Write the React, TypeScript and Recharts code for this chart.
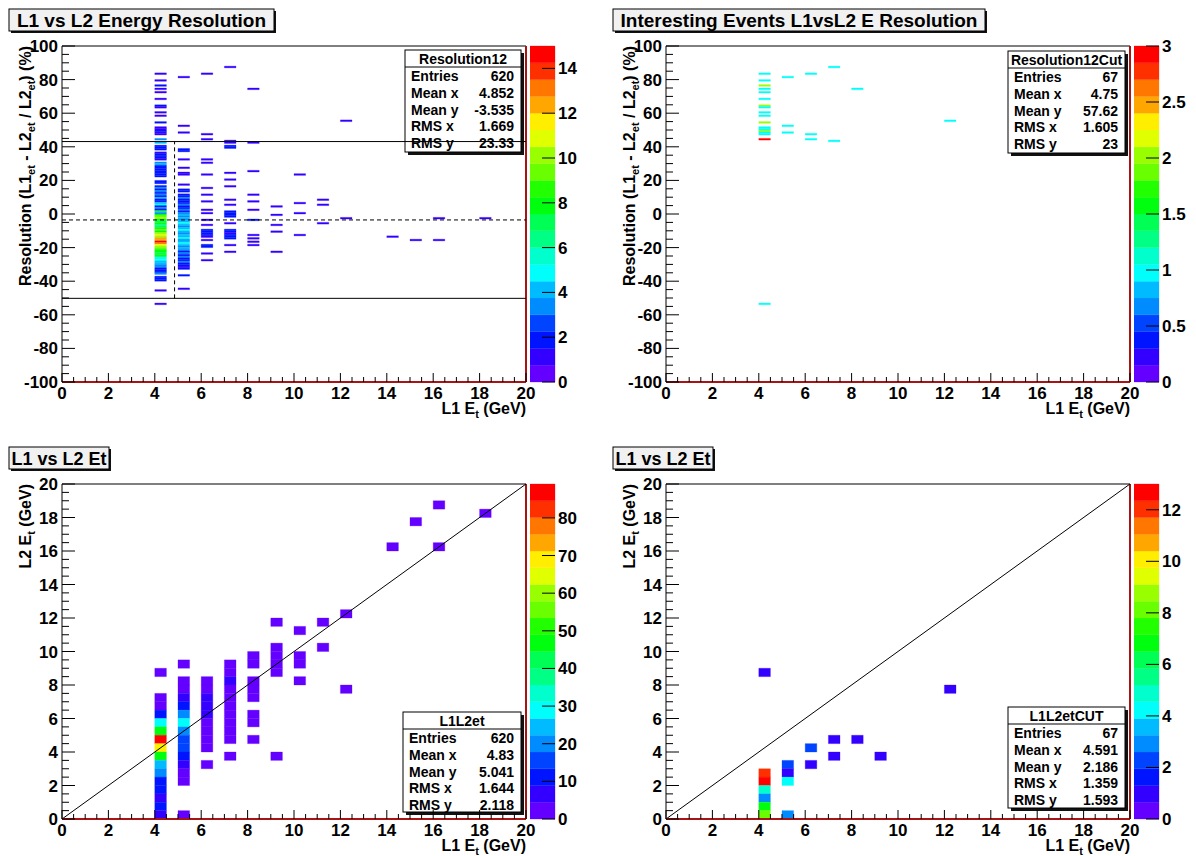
import React from "react";
import { ComposedChart, XAxis, YAxis, ReferenceArea, ReferenceLine } from "recharts";

type Col = [number, number][];
type Bin = { x1: number; x2: number; y1: number; y2: number; n: number };

// ROOT "pretty" palette sampled at 20 contour levels (violet -> red)
const PALETTE = [
  "#6300ff", "#3300ff", "#0014ff", "#0044ff", "#008bff",
  "#00bbff", "#00fffb", "#00ffcc", "#00ff85", "#00ff55",
  "#00ff0e", "#22ff00", "#69ff00", "#99ff00", "#e0ff00",
  "#ffee00", "#ffa700", "#ff7700", "#ff3000", "#ff0000",
];

// ---- Resolution12 : [resolution bin low edge (%), entries], per L1 Et column (0.5 GeV wide)
const res12At4: Col = [
  [83, 1], [79, 1], [76, 2], [74, 1], [72, 1], [68, 1], [64, 2], [63, 1], [60, 1], [58, 1], [54, 2],
  [51, 1], [50, 1], [49, 2], [48, 1], [47, 1], [44, 3], [42, 4], [40, 2], [39, 2], [38, 2], [36, 1],
  [35, 2], [34, 2], [33, 2], [32, 1], [30, 3], [29, 4], [28, 2], [27, 2], [26, 2], [25, 2], [24, 2],
  [23, 2], [22, 2], [19, 2], [18, 2], [16, 2], [15, 3], [14, 2], [13, 3], [12, 2], [11, 3], [10, 2],
  [9, 4], [8, 2], [7, 2], [6, 4], [5, 5], [4, 2], [3, 3], [2, 2], [1, 7], [0, 3],
  [-1, 8], [-2, 9], [-3, 10], [-4, 8], [-5, 7], [-6, 8], [-7, 6], [-8, 7], [-9, 8], [-10, 9],
  [-11, 8], [-12, 10], [-13, 11], [-14, 10], [-15, 12], [-16, 12], [-17, 15], [-18, 13], [-19, 11],
  [-20, 10], [-21, 9], [-22, 8], [-23, 8], [-24, 7], [-25, 8], [-26, 6], [-27, 5], [-28, 5],
  [-29, 4], [-30, 4], [-31, 3], [-32, 3], [-33, 2], [-34, 2], [-35, 2], [-36, 3], [-38, 2],
  [-39, 2], [-40, 2], [-46, 1], [-54, 1],
];
const res12At5: Col = [
  [81, 1], [52, 1], [48, 1], [38, 2], [37, 2], [32, 1], [27, 1], [24, 1], [23, 1], [17, 1], [14, 2],
  [13, 2], [11, 2], [10, 2], [9, 3], [8, 2], [7, 2], [6, 2], [5, 3], [4, 2], [3, 2], [2, 3], [1, 2],
  [0, 3], [-1, 4], [-2, 3], [-3, 4], [-4, 3], [-5, 4], [-6, 5], [-7, 4], [-8, 3], [-9, 4], [-10, 5],
  [-11, 4], [-12, 3], [-13, 4], [-14, 4], [-15, 5], [-16, 3], [-17, 4], [-18, 5], [-19, 4], [-20, 3],
  [-21, 4], [-22, 3], [-23, 2], [-24, 3], [-25, 2], [-26, 3], [-27, 2], [-28, 2], [-29, 3], [-30, 2],
  [-31, 2], [-32, 1], [-33, 2], [-37, 2], [-45, 1],
];
const res12At6: Col = [
  [83, 1], [47, 1], [44, 1], [32, 1], [30, 1], [23, 1], [15, 1], [11, 1], [7, 1], [2, 1], [0, 1],
  [-4, 1], [-7, 1], [-10, 2], [-11, 2], [-12, 2], [-13, 2], [-14, 1], [-16, 1], [-19, 2], [-20, 2],
  [-24, 1], [-28, 1],
];
const res12At7: Col = [
  [87, 1], [43, 1], [42, 1], [40, 2], [39, 2], [24, 1], [20, 1], [16, 1], [8, 1], [5, 1], [1, 2],
  [0, 2], [-1, 2], [-2, 2], [-6, 1], [-10, 2], [-11, 2], [-12, 1], [-13, 2], [-14, 2], [-15, 2],
  [-19, 1], [-23, 1],
];
const res12At8: Col = [[74, 1], [42, 1], [25, 1], [11, 1], [7, 1], [2, 1], [-4, 2], [-13, 1], [-15, 1], [-17, 1], [-19, 1]];
const res12At9: Col = [[4, 1], [-1, 1], [-7, 1], [-11, 1], [-23, 1]];
const res12At10: Col = [[23, 1], [6, 1], [0, 1], [-13, 1]];
const res12At11: Col = [[8, 1], [5, 1], [-6, 1]];
const res12At12: Col = [[55, 1], [-3, 1]];
const res12At14: Col = [[-14, 1]];
const res12At15: Col = [[-16, 1]];
const res12At16: Col = [[-3, 1], [-16, 1]];
const res12At18: Col = [[-3, 1]];

// ---- Resolution12Cut
const cutAt4: Col = [
  [83, 1], [79, 1], [76, 2], [74, 1], [72, 1], [68, 1], [64, 2], [63, 1], [60, 1], [58, 1], [54, 2],
  [51, 1], [50, 1], [49, 2], [48, 1], [47, 1], [44, 3], [-54, 1],
];
const cutAt5: Col = [[81, 1], [52, 1], [48, 1]];
const cutAt6: Col = [[83, 1], [47, 1], [44, 1]];
const cutAt7: Col = [[87, 1], [43, 1]];
const cutAt8: Col = [[74, 1]];
const cutAt12: Col = [[55, 1]];

// ---- L1L2et : [L2 Et bin low edge (GeV), entries], 0.5 GeV bins
const etAt4: Col = [
  [8.5, 2], [7, 3], [6.5, 4], [6, 10], [5.5, 28], [5, 48], [4.5, 88], [4, 68], [3.5, 48], [3, 24],
  [2.5, 20], [2, 13], [1.5, 12], [1, 5], [0.5, 10], [0, 8],
];
const etAt5: Col = [
  [9, 2], [8, 3], [7.5, 3], [7, 6], [6.5, 12], [6, 20], [5.5, 28], [5, 22], [4.5, 15], [4, 14],
  [3.5, 11], [3, 6], [2.5, 4], [2, 3], [0, 2],
];
const etAt6: Col = [[8, 2], [7.5, 3], [7, 5], [6.5, 6], [6, 5], [5.5, 4], [5, 3], [4.5, 2], [4, 2], [3, 1]];
const etAt7: Col = [[9, 1], [8.5, 2], [8, 5], [7.5, 3], [7, 3], [6.5, 2], [6, 3], [5.5, 2], [5, 2], [4.5, 1], [3.5, 1]];
const etAt8: Col = [[9.5, 1], [9, 1], [8, 2], [7.5, 2], [7, 1], [6, 1], [5.5, 1], [4.5, 1]];
const etAt9: Col = [[11.5, 1], [10, 1], [9.5, 1], [9, 1], [8.5, 1], [3.5, 1]];
const etAt10: Col = [[11, 1], [9.5, 1], [9, 1], [8, 1]];
const etAt11: Col = [[11.5, 1], [10, 1]];
const etAt12: Col = [[12, 1], [7.5, 1]];
const etAt14: Col = [[16, 1]];
const etAt15: Col = [[17.5, 1]];
const etAt16: Col = [[18.5, 1], [16, 1]];
const etAt18: Col = [[18, 1]];

// ---- L1L2etCUT
const etCutAt4: Col = [[8.5, 1], [2.5, 12], [2, 13], [1.5, 5], [1, 3], [0.5, 7], [0, 8]];
const etCutAt5: Col = [[3, 2], [2.5, 1], [2, 4], [0, 3]];
const etCutAt6: Col = [[4, 2], [3, 1]];
const etCutAt7: Col = [[4.5, 1], [3.5, 1]];
const etCutAt8: Col = [[4.5, 1]];
const etCutAt9: Col = [[3.5, 1]];
const etCutAt12: Col = [[7.5, 1]];

// stats boxes
const STAT_LABELS = ["Entries", "Mean x", "Mean y", "RMS x", "RMS y"];
const res12Stats = ["620", "4.852", "-3.535", "1.669", "23.33"];
const cutStats = ["67", "4.75", "57.62", "1.605", "23"];
const etStats = ["620", "4.83", "5.041", "1.644", "2.118"];
const etCutStats = ["67", "4.591", "2.186", "1.359", "1.593"];

// axes
const X_MAJOR = [0, 2, 4, 6, 8, 10, 12, 14, 16, 18, 20];
const RES_Y_MAJOR = [-100, -80, -60, -40, -20, 0, 20, 40, 60, 80, 100];
const ET_Y_MAJOR = [0, 2, 4, 6, 8, 10, 12, 14, 16, 18, 20];
const RES_Z_TICKS = [0, 2, 4, 6, 8, 10, 12, 14];
const CUT_Z_TICKS = [0, 0.5, 1, 1.5, 2, 2.5, 3];
const ET_Z_TICKS = [0, 10, 20, 30, 40, 50, 60, 70, 80];
const ETCUT_Z_TICKS = [0, 2, 4, 6, 8, 10, 12];

// Resolution12 mean and +-2 RMS band
const RES_MEAN_X = 4.852;
const RES_MEAN_Y = -3.535;
const RES_HI = 43.12;
const RES_LO = -50.2;

const FONT = "'Liberation Sans', Arial, Helvetica, sans-serif";
const RED = "#a81414";
const PLOT_L = 62;
const PLOT_R = 526;
const PLOT_T = 46;
const CHART_W = 545;
const AXIS_H = 26;

const toBins = (cols: [number, Col][], dy: number): Bin[] =>
  cols.flatMap(([x, col]) => col.map(([y, n]) => ({ x1: x, x2: x + 0.5, y1: y, y2: y + dy, n })));

const withMinor = (major: number[], n: number) =>
  major.flatMap((v, i) =>
    i === 0 ? [v] : Array.from({ length: n }, (_, k) => major[i - 1] + ((v - major[i - 1]) * (k + 1)) / n)
  );

const colorOf = (n: number, zMax: number) => PALETTE[Math.min(19, Math.floor(n / (zMax / 20)))];

const xTick = (p: any) => {
  const { x, y, payload } = p;
  const major = X_MAJOR.includes(payload.value);
  return (
    <g>
      <line x1={x} x2={x} y1={y} y2={y - (major ? 9 : 5)} stroke="#000" />
      {major && (
        <text x={x} y={y + 17} textAnchor="middle" fontSize={17} fontWeight="bold" fontFamily={FONT}>
          {payload.value}
        </text>
      )}
    </g>
  );
};

const yTickFor = (majors: number[]) => (p: any) => {
  const { x, y, payload } = p;
  const major = majors.includes(payload.value);
  return (
    <g>
      <line x1={x} x2={x + (major ? 13 : 7)} y1={y} y2={y} stroke="#000" />
      {major && (
        <text x={x - 4} y={y + 6} textAnchor="end" fontSize={17} fontWeight="bold" fontFamily={FONT}>
          {payload.value}
        </text>
      )}
    </g>
  );
};

const zTick = (p: any) => {
  const { x, y, payload } = p;
  return (
    <g>
      <line x1={x - 13} x2={x} y1={y} y2={y} stroke="#000" />
      <text x={x + 3} y={y + 6} textAnchor="start" fontSize={17} fontWeight="bold" fontFamily={FONT}>
        {payload.value}
      </text>
    </g>
  );
};

type PanelProps = {
  left: number;
  top: number;
  title: string;
  titleW: number;
  titleSize: number;
  bins: Bin[];
  zMax: number;
  zTicks: number[];
  yDomain: [number, number];
  yMajor: number[];
  yTitle: React.ReactNode;
  statsName: string;
  stats: string[];
  statsBox: { x: number; y: number; w: number; h: number };
  plotBottom: number;
  extras?: React.ReactNode[];
};

function Panel(p: PanelProps) {
  const H = p.plotBottom + AXIS_H;
  const step = p.zMax / 20;
  const b = p.statsBox;
  return (
    <div style={{ position: "absolute", left: p.left, top: p.top, width: 600, height: 430 }}>
      <svg width={600} height={430} style={{ position: "absolute", left: 0, top: 0 }} fontFamily={FONT}>
        {/* title box */}
        <rect x={11} y={11} width={p.titleW} height={22} fill="#111" />
        <rect x={9} y={9} width={p.titleW} height={22} fill="#f1f1f1" stroke="#000" />
        <text x={9 + p.titleW / 2} y={26.5} textAnchor="middle" fontSize={p.titleSize} fontWeight="bold">
          {p.title}
        </text>
        {/* stats box */}
        <rect x={b.x + 3} y={b.y + 3} width={b.w} height={b.h} fill="#111" />
        <rect x={b.x} y={b.y} width={b.w} height={b.h} fill="#fff" stroke="#000" />
        <line x1={b.x} x2={b.x + b.w} y1={b.y + 17} y2={b.y + 17} stroke="#000" />
        <text x={b.x + b.w / 2} y={b.y + 13.5} textAnchor="middle" fontSize={14} fontWeight="bold">
          {p.statsName}
        </text>
        {STAT_LABELS.map((l, i) => (
          <g key={l}>
            <text x={b.x + 6} y={b.y + 31 + i * 16.8} fontSize={14} fontWeight="bold">
              {l}
            </text>
            <text x={b.x + b.w - 7} y={b.y + 31 + i * 16.8} textAnchor="end" fontSize={14} fontWeight="bold">
              {p.stats[i]}
            </text>
          </g>
        ))}
        {/* axis titles */}
        <text x={PLOT_R} y={p.plotBottom + 32} textAnchor="end" fontSize={16} fontWeight="bold">
          <tspan>L1 E</tspan>
          <tspan dy={4} fontSize={11}>t</tspan>
          <tspan dy={-4}> (GeV)</tspan>
        </text>
        <text transform={`translate(31,${PLOT_T}) rotate(-90)`} textAnchor="end" fontSize={16} fontWeight="bold">
          {p.yTitle}
        </text>
      </svg>

      <div style={{ position: "absolute", left: 0, top: 0 }}>
        <ComposedChart
          width={CHART_W}
          height={H}
          margin={{ top: PLOT_T, right: CHART_W - PLOT_R, bottom: 0, left: 0 }}
        >
          <XAxis
            type="number"
            dataKey="x"
            domain={[0, 20]}
            ticks={withMinor(X_MAJOR, 4)}
            interval={0}
            tickSize={0}
            tickMargin={0}
            tickLine={false}
            tick={xTick}
            axisLine={{ stroke: RED, strokeWidth: 2 }}
            height={AXIS_H}
            allowDataOverflow
          />
          <YAxis
            type="number"
            dataKey="y"
            domain={p.yDomain}
            ticks={withMinor(p.yMajor, 4)}
            interval={0}
            tickSize={0}
            tickMargin={0}
            tickLine={false}
            tick={yTickFor(p.yMajor)}
            axisLine={{ stroke: "#000" }}
            width={PLOT_L}
            allowDataOverflow
          />
          {p.bins.map((bin, i) => {
            const c = colorOf(bin.n, p.zMax);
            return (
              <ReferenceArea
                key={i}
                x1={bin.x1}
                x2={bin.x2}
                y1={bin.y1}
                y2={bin.y2}
                fill={c}
                fillOpacity={1}
                stroke={c}
                strokeWidth={0.3}
              />
            );
          })}
          <ReferenceLine y={p.yDomain[1]} stroke="#000" />
          <ReferenceLine x={20} stroke={RED} strokeWidth={2} />
          {p.extras}
        </ComposedChart>
      </div>

      <div style={{ position: "absolute", left: 530, top: 0 }}>
        <ComposedChart
          width={70}
          height={H}
          margin={{ top: PLOT_T, right: 0, bottom: H - p.plotBottom, left: 0 }}
        >
          <XAxis type="number" dataKey="x" domain={[0, 1]} height={0} tick={false} axisLine={false} tickLine={false} allowDataOverflow />
          <YAxis
            orientation="right"
            type="number"
            dataKey="z"
            domain={[0, p.zMax]}
            ticks={p.zTicks}
            interval={0}
            tickSize={0}
            tickMargin={0}
            tickLine={false}
            tick={zTick}
            axisLine={false}
            width={45}
            allowDataOverflow
          />
          {PALETTE.map((c, i) => (
            <ReferenceArea
              key={i}
              x1={0}
              x2={1}
              y1={i * step}
              y2={(i + 1) * step}
              fill={c}
              fillOpacity={1}
              stroke={c}
              strokeWidth={0.3}
            />
          ))}
        </ComposedChart>
      </div>
    </div>
  );
}

const resYTitle = (
  <>
    <tspan>Resolution (L1</tspan>
    <tspan dy={4} fontSize={11}>et</tspan>
    <tspan dy={-4}> - L2</tspan>
    <tspan dy={4} fontSize={11}>et</tspan>
    <tspan dy={-4}> / L2</tspan>
    <tspan dy={4} fontSize={11}>et</tspan>
    <tspan dy={-4}>) (%)</tspan>
  </>
);

const etYTitle = (
  <>
    <tspan>L2 E</tspan>
    <tspan dy={4} fontSize={11}>t</tspan>
    <tspan dy={-4}> (GeV)</tspan>
  </>
);

export default function App() {
  const res12Bins = toBins(
    [
      [4, res12At4], [5, res12At5], [6, res12At6], [7, res12At7], [8, res12At8], [9, res12At9],
      [10, res12At10], [11, res12At11], [12, res12At12], [14, res12At14], [15, res12At15],
      [16, res12At16], [18, res12At18],
    ],
    1
  );
  const cutBins = toBins(
    [[4, cutAt4], [5, cutAt5], [6, cutAt6], [7, cutAt7], [8, cutAt8], [12, cutAt12]],
    1
  );
  const etBins = toBins(
    [
      [4, etAt4], [5, etAt5], [6, etAt6], [7, etAt7], [8, etAt8], [9, etAt9], [10, etAt10],
      [11, etAt11], [12, etAt12], [14, etAt14], [15, etAt15], [16, etAt16], [18, etAt18],
    ],
    0.5
  );
  const etCutBins = toBins(
    [
      [4, etCutAt4], [5, etCutAt5], [6, etCutAt6], [7, etCutAt7], [8, etCutAt8], [9, etCutAt9],
      [12, etCutAt12],
    ],
    0.5
  );

  const resLines = [
    <ReferenceLine key="hi" y={RES_HI} stroke="#000" />,
    <ReferenceLine key="lo" y={RES_LO} stroke="#000" />,
    <ReferenceLine key="my" y={RES_MEAN_Y} stroke="#000" strokeDasharray="4 3" />,
    <ReferenceLine
      key="mx"
      segment={[{ x: RES_MEAN_X, y: RES_LO }, { x: RES_MEAN_X, y: RES_HI }]}
      stroke="#000"
      strokeDasharray="4 3"
    />,
  ];
  const diag = [
    <ReferenceLine key="d" segment={[{ x: 0, y: 0 }, { x: 20, y: 20 }]} stroke="#000" />,
  ];

  return (
    <div style={{ position: "absolute", left: 0, top: 0, width: 1196, height: 856, background: "#fff", overflow: "hidden" }}>
      <Panel
        left={0}
        top={0}
        title="L1 vs L2 Energy Resolution"
        titleW={265}
        titleSize={19}
        bins={res12Bins}
        zMax={15}
        zTicks={RES_Z_TICKS}
        yDomain={[-100, 100]}
        yMajor={RES_Y_MAJOR}
        yTitle={resYTitle}
        statsName="Resolution12"
        stats={res12Stats}
        statsBox={{ x: 405, y: 50, w: 116, h: 102 }}
        plotBottom={382}
        extras={resLines}
      />
      <Panel
        left={604}
        top={0}
        title="Interesting Events L1vsL2 E Resolution"
        titleW={372}
        titleSize={19}
        bins={cutBins}
        zMax={3}
        zTicks={CUT_Z_TICKS}
        yDomain={[-100, 100]}
        yMajor={RES_Y_MAJOR}
        yTitle={resYTitle}
        statsName="Resolution12Cut"
        stats={cutStats}
        statsBox={{ x: 404, y: 51, w: 117, h: 102 }}
        plotBottom={382}
      />
      <Panel
        left={0}
        top={438}
        title="L1 vs L2 Et"
        titleW={100}
        titleSize={18}
        bins={etBins}
        zMax={89}
        zTicks={ET_Z_TICKS}
        yDomain={[0, 20]}
        yMajor={ET_Y_MAJOR}
        yTitle={etYTitle}
        statsName="L1L2et"
        stats={etStats}
        statsBox={{ x: 403, y: 274, w: 118, h: 100 }}
        plotBottom={381}
        extras={diag}
      />
      <Panel
        left={604}
        top={438}
        title="L1 vs L2 Et"
        titleW={100}
        titleSize={18}
        bins={etCutBins}
        zMax={13}
        zTicks={ETCUT_Z_TICKS}
        yDomain={[0, 20]}
        yMajor={ET_Y_MAJOR}
        yTitle={etYTitle}
        statsName="L1L2etCUT"
        stats={etCutStats}
        statsBox={{ x: 404, y: 269, w: 117, h: 101 }}
        plotBottom={381}
        extras={diag}
      />
    </div>
  );
}
